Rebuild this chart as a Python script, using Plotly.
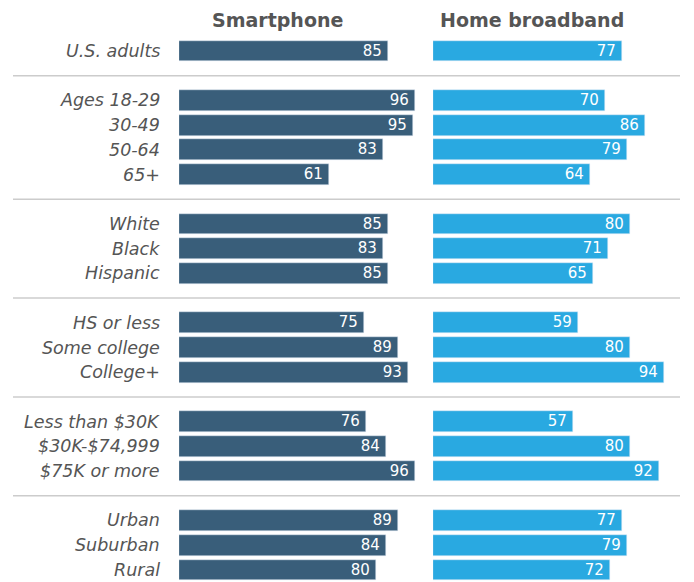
import plotly.graph_objects as go

groups = [
    ["U.S. adults"],
    ["Ages 18-29", "30-49", "50-64", "65+"],
    ["White", "Black", "Hispanic"],
    ["HS or less", "Some college", "College+"],
    ["Less than $30K", "$30K-$74,999", "$75K or more"],
    ["Urban", "Suburban", "Rural"],
]
smartphone = [85, 96, 95, 83, 61, 85, 83, 85, 75, 89, 93, 76, 84, 96, 89, 84, 80]
broadband = [77, 70, 86, 79, 64, 80, 71, 65, 59, 80, 94, 57, 80, 92, 77, 79, 72]
panel_titles = ["Smartphone", "Home broadband"]

W, H = 694, 582
DARK = "#395e7a"
LIGHT = "#29a9e1"
GRAY = "#555555"
FONT = "DejaVu Sans"

labels, slots, seps = [], [], []
s = 0
for gi, g in enumerate(groups):
    if gi > 0:
        seps.append(s)
        s += 1
    for lab in g:
        labels.append(lab)
        slots.append(s)
        s += 1

y0px, step = 51, 24.71
yr = [(H - y0px) / step, -y0px / step]

fig = go.Figure()
for vals, col, xa in [(smartphone, DARK, "x"), (broadband, LIGHT, "x2")]:
    fig.add_trace(go.Bar(
        x=vals, y=slots, orientation="h", marker_color=col, width=0.84,
        text=[f"{v}\u2009" for v in vals], textposition="inside", insidetextanchor="end",
        textangle=0, constraintext="none",
        textfont=dict(color="white", size=15, family=FONT), xaxis=xa, yaxis="y",
        hoverinfo="skip"))

ax = dict(range=[0, 100], showgrid=False, zeroline=False, showticklabels=False, fixedrange=True)
fig.update_layout(
    width=W, height=H, margin=dict(l=0, r=0, t=0, b=0),
    plot_bgcolor="white", paper_bgcolor="white", showlegend=False,
    bargap=0,
    xaxis=dict(domain=[179 / W, 425 / W], **ax),
    xaxis2=dict(domain=[433 / W, 679 / W], anchor="y", **ax),
    yaxis=dict(range=yr, showgrid=False, zeroline=False, showticklabels=False, fixedrange=True),
    uniformtext=dict(minsize=15, mode="show"),
)

for lab, sl in zip(labels, slots):
    fig.add_annotation(x=161 / W, xref="paper", y=sl, yref="y", text=f"<i>{lab}</i>",
                       showarrow=False, xanchor="right", yanchor="middle",
                       borderpad=0,
                       font=dict(size=17.5, color=GRAY, family=FONT))

for title, cx in zip(panel_titles, [277, 532]):
    fig.add_annotation(x=cx / W, xref="paper", y=1 - 20 / H, yref="paper", text=f"<b>{title}</b>",
                       showarrow=False, xanchor="center", yanchor="middle",
                       font=dict(size=19, color=GRAY, family=FONT))

for sp in seps:
    fig.add_shape(type="line", xref="paper", yref="y", x0=13 / W, x1=680 / W, y0=sp, y1=sp,
                  line=dict(color="#cccccc", width=1.5))

fig.write_html("out.html", config={"displayModeBar": False},
               post_script="document.body.style.margin='0';document.body.style.overflow='hidden';")
